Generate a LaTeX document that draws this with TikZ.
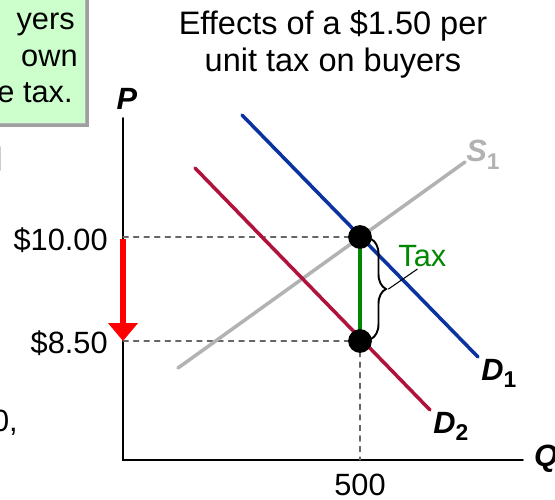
\documentclass[tikz,border=0pt]{standalone}
\usepackage{fontspec}
\setmainfont{Liberation Sans}
\usetikzlibrary{arrows.meta,decorations.pathreplacing}
\definecolor{dblue}{RGB}{10,50,160}
\definecolor{dred}{RGB}{176,18,59}
\definecolor{sgray}{RGB}{178,178,178}
\definecolor{taxgreen}{RGB}{0,136,0}
\definecolor{notegreen}{RGB}{204,255,204}
\newcommand{\curvelbl}[2]{{\bfseries\itshape #1}\raisebox{-0.45ex}{\fontsize{13}{13}\selectfont\bfseries #2}}

\begin{document}
\begin{tikzpicture}[x=0.02cm,y=-0.02cm,line cap=round,
  txt/.style={inner sep=0pt,font=\fontsize{17.5}{21}\selectfont},
  ttl/.style={inner sep=0pt,font=\fontsize{18.5}{22}\selectfont},
  axlbl/.style={inner sep=0pt,font=\fontsize{17.5}{21}\selectfont\bfseries\itshape},
  curve/.style={line width=2pt},
  guide/.style={gray!80!black,dashed,line width=0.6pt},
  dot/.style={circle,fill=black,inner sep=0pt,minimum size=13.5pt}]
\useasboundingbox (0,0) rectangle (555,500);
\clip (0,0) rectangle (555,500);
% note box, cut off at the left
\fill[gray!75] (-10,-10) rectangle (89,127);
\draw[gray!60,fill=notegreen] (-10,-10) rectangle (85,123);
\node[txt,anchor=base east] (n1) at (75,30) {yers};
\node[txt,anchor=base east] (n2) at (78,67) {own};
\node[txt,anchor=base east] (n3) at (73,103) {e tax.};
\draw[gray!40,line width=1pt] (0.5,147) -- (0.5,170);
\node[txt,anchor=base east] (n4) at (18,431) {0,};

% title
\node[ttl,anchor=base] (t1) at (333,35) {Effects of a \$1.50 per};
\node[ttl,anchor=base] (t2) at (333,72) {unit tax on buyers};

% axes
\coordinate (o) at (123,460);
\coordinate (ptop) at (123,118);
\coordinate (qend) at (523,460);
\draw[line width=0.9pt] (ptop) -- (o) -- (qend);
\node[axlbl,anchor=base] (P) at (127,110) {P};
\node[axlbl,anchor=base] (Q) at (546,466) {Q};

% points
\coordinate (p10) at (123,237);
\coordinate (p850) at (123,341);
\coordinate (q500) at (360,460);
\coordinate (eq) at (360,237);
\coordinate (eqb) at (360,341);
\draw[guide] (p10) -- (eq);
\draw[guide] (p850) -- (eqb);
\draw[guide] (eqb) -- (q500);
\node[txt,anchor=base east] (l10) at (108,251) {\$10.00};
\node[txt,anchor=base east] (l850) at (108,353) {\$8.50};
\node[txt,anchor=base] (l500) at (360,495) {500};

% curves
\coordinate (s0) at (178,368);
\coordinate (s1) at (465,162);
\coordinate (da0) at (242,115);
\coordinate (da1) at (478,357);
\coordinate (db0) at (195,168);
\coordinate (db1) at (430,410);
\draw[curve,sgray] (s0) -- (s1);
\draw[curve,dblue] (da0) -- (da1);
\draw[curve,dred] (db0) -- (db1);
\node[txt,anchor=base west,text=sgray] (S) at (466,162) {\curvelbl{S}{1}};
\node[txt,anchor=base west] (D1) at (481,380) {\curvelbl{D}{1}};
\node[txt,anchor=base west] (D2) at (433,433) {\curvelbl{D}{2}};

% tax wedge
\draw[taxgreen,line width=2.2pt] (eq) -- (eqb);
\node[dot] (top) at (eq) {};
\node[dot] (bot) at (eqb) {};
\draw[line width=1.1pt,decorate,decoration={brace,amplitude=0.3cm}]
  (371,239) -- coordinate[xshift=0.35cm] (tip) (371,339);
\node[txt,anchor=base west,text=taxgreen] (tax) at (398,266) {Tax};
\draw[line width=0.6pt] (tip) -- ([xshift=-0.1cm,yshift=-0.05cm]tax.south);

% price drop
\draw[red,line width=3.4pt,line cap=butt,-{Triangle[width=0.58cm,length=0.36cm]}] (p10) ++(0,2) -- (p850);
\end{tikzpicture}
\end{document}
